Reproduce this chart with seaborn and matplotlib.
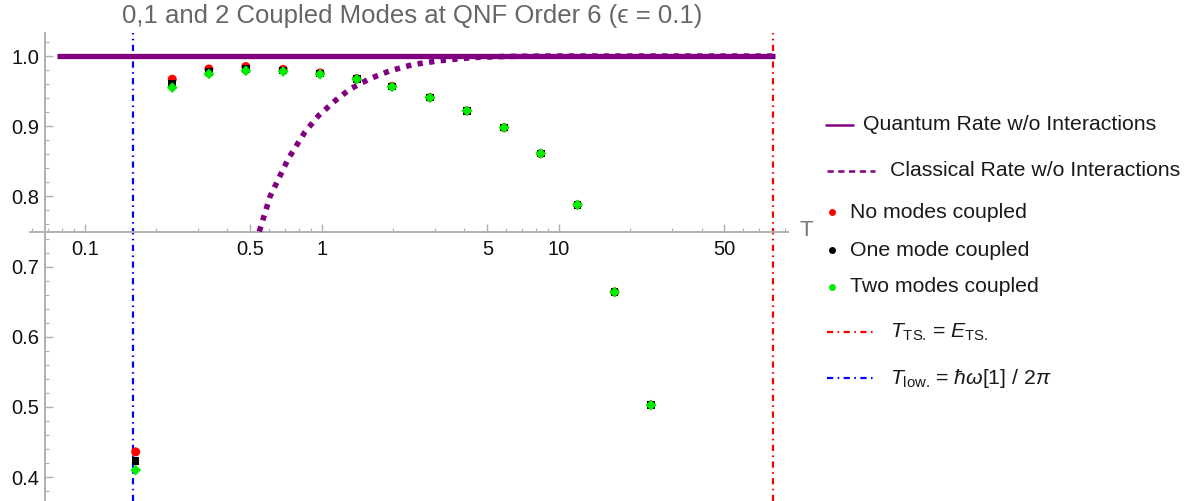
import numpy as np
import pandas as pd
import matplotlib
matplotlib.use("Agg")
import matplotlib.pyplot as plt
from matplotlib.lines import Line2D
from matplotlib.ticker import FixedLocator, NullFormatter, FixedFormatter
import seaborn as sns

# ---------------- data ----------------
temperature = [0.164, 0.234, 0.334, 0.478, 0.687, 0.984, 1.405, 1.98,
               2.86, 4.10, 5.88, 8.39, 12.0, 17.2, 24.5]
rate_no_modes = [0.436, 0.967, 0.9816, 0.985, 0.981, 0.976, 0.968, 0.957,
                 0.941, 0.922, 0.898, 0.861, 0.788, 0.664, 0.503]
rate_one_mode = [0.423, 0.961, 0.977, 0.9816, 0.9795, 0.975, 0.9675, 0.9565,
                 0.9408, 0.922, 0.898, 0.861, 0.788, 0.6637, 0.5027]
rate_two_modes = [0.410, 0.955, 0.9745, 0.979, 0.978, 0.974, 0.967, 0.956,
                  0.9407, 0.922, 0.898, 0.861, 0.788, 0.6635, 0.5026]

classical_T = [0.545, 0.605, 0.723, 0.85, 0.968, 1.14, 1.316, 1.60, 1.94,
               2.43, 3.16, 4.36, 6.0, 9.0, 15.0, 30.0, 81.9]
classical_rate = [0.75, 0.80, 0.854, 0.892, 0.915, 0.9365, 0.953, 0.968, 0.979,
                  0.988, 0.9935, 0.998, 0.9995, 1.0, 1.0, 1.0, 1.0]

quantum_T = [0.0764, 81.9]
quantum_rate = [1.0, 1.0]

T_low = 0.160
T_TS = 80.4

x_major = [0.1, 0.5, 1, 5, 10, 50]
x_major_labels = ["0.1", "0.5", "1", "5", "10", "50"]
y_major = [0.4, 0.5, 0.6, 0.7, 0.8, 0.9, 1.0]
y_major_labels = ["0.4", "0.5", "0.6", "0.7", "0.8", "0.9", "1.0"]

legend_labels = ["Quantum Rate w/o Interactions", "Classical Rate w/o Interactions",
                 "No modes coupled", "One mode coupled", "Two modes coupled",
                 r"$T_{\mathrm{TS.}}\,$" + "= " + r"$E_{\mathrm{TS.}}$",
                 r"$T_{\mathrm{low.}}\,$" + "= " + r"$\hbar\omega$[1] / 2$\pi$"]
title = "0,1 and 2 Coupled Modes at QNF Order 6 (\u03f5 = 0.1)"

# ---------------- style ----------------
sns.set_style("white")
plt.rcParams["font.family"] = ["Liberation Sans", "DejaVu Sans"]
plt.rcParams["mathtext.fontset"] = "custom"
plt.rcParams["mathtext.rm"] = "Liberation Sans"
plt.rcParams["mathtext.it"] = "Liberation Sans:italic"
plt.rcParams["mathtext.bf"] = "Liberation Sans:bold"

PURPLE = (0.5, 0.0, 0.5)
AXIS_GREY = "#b0b0b0"
W, H = 1193, 501

fig = plt.figure(figsize=(W / 100, H / 100), dpi=100)
ax_left, ax_right, ax_top = 30, 788, 32.7
ax = fig.add_axes([ax_left / W, 0.0, (ax_right - ax_left) / W, (H - ax_top) / H])

ax.set_xscale("log")

# curves
sns.lineplot(x=quantum_T, y=quantum_rate, ax=ax, color=PURPLE, lw=3.8,
             solid_capstyle="butt", zorder=3)
sns.lineplot(x=classical_T, y=classical_rate, ax=ax, color=PURPLE, lw=4.0,
             linestyle=(0, (0.95, 1.15)), zorder=3)

# vertical markers
dashdot = (0, (2.8, 2.0, 0.7, 2.0))
ax.axvline(T_low, color="blue", lw=1.6, linestyle=dashdot, zorder=2)
ax.axvline(T_TS, color="red", lw=1.6, linestyle=dashdot, zorder=2)

# points
sns.scatterplot(x=temperature, y=rate_no_modes, ax=ax, color="red", marker="o",
                s=42, edgecolor="none", zorder=4)
sns.scatterplot(x=temperature, y=rate_one_mode, ax=ax, color="black", marker="s",
                s=30, edgecolor="none", zorder=5)
sns.scatterplot(x=temperature, y=rate_two_modes, ax=ax, color="#00ee00", marker="D",
                s=30, edgecolor="none", zorder=6)

ax.set_xlim(10 ** -1.231, 10 ** 1.967)
ax.set_ylim(0.366, 1.0333)

# axes styling (Mathematica-like crossing axes)
for s in ["top", "right"]:
    ax.spines[s].set_visible(False)
ax.spines["left"].set_position(("data", 0.068))
ax.spines["bottom"].set_position(("data", 0.75))
for s in ["left", "bottom"]:
    ax.spines[s].set_color(AXIS_GREY)
    ax.spines[s].set_linewidth(1.4)

ax.xaxis.set_major_locator(FixedLocator(x_major))
ax.xaxis.set_major_formatter(FixedFormatter(x_major_labels))
x_minor = [m * d for d in (0.01, 0.1, 1, 10) for m in range(2, 10)]
x_minor = [v for v in x_minor if v not in x_major]
ax.xaxis.set_minor_locator(FixedLocator(x_minor))
ax.xaxis.set_minor_formatter(NullFormatter())

ax.yaxis.set_major_locator(FixedLocator(y_major))
ax.yaxis.set_major_formatter(FixedFormatter(y_major_labels))
ax.yaxis.set_minor_locator(FixedLocator(np.arange(0.36, 1.04, 0.02)))
ax.yaxis.set_minor_formatter(NullFormatter())

ax.tick_params(which="both", bottom=True, left=True, top=False, right=False)
ax.tick_params(which="major", direction="in", length=6.0, width=1.0,
               color=AXIS_GREY, labelsize=14.5, labelcolor="#111111")
ax.tick_params(which="minor", direction="in", length=3.2, width=0.8, color=AXIS_GREY)
ax.tick_params(axis="x", which="major", pad=6)
ax.tick_params(axis="y", which="major", pad=4)
ax.set_xlabel("")
ax.set_ylabel("")

# axis label "T"
fig.text(800 / W, 1 - 231 / H, "T", fontsize=16, color="#777777", va="center", ha="left")

# title
fig.text(412 / W, 1 - 16 / H, title, fontsize=18.5, color="#666666", ha="center", va="center")

# ---------------- legend (manual, figure coordinates) ----------------
def fx(px):
    return px / W

def fy(py):
    return 1 - py / H

legend_fs = 15.3
txt_col = "#1a1a1a"
# quantum
fig.add_artist(Line2D([fx(826), fx(853)], [fy(125), fy(125)], color=PURPLE, lw=1.8))
fig.text(fx(863), fy(125), legend_labels[0], fontsize=legend_fs, color=txt_col, va="center")
# classical
fig.add_artist(Line2D([fx(827), fx(875)], [fy(171), fy(171)], color=PURPLE, lw=1.8,
                      linestyle=(0, (2.5, 1.8))))
fig.text(fx(890), fy(171), legend_labels[1], fontsize=legend_fs, color=txt_col, va="center")
# points
for yy, col, lab in [(212, "red", legend_labels[2]), (250, "black", legend_labels[3]),
                     (287, "#00ee00", legend_labels[4])]:
    fig.add_artist(Line2D([fx(832)], [fy(yy)], marker="o", color=col, markersize=5,
                          linestyle="none", markeredgewidth=0))
    fig.text(fx(850), fy(yy), lab, fontsize=legend_fs, color=txt_col, va="center")
# vertical lines
for yy, col, lab in [(332, "red", legend_labels[5]), (378, "blue", legend_labels[6])]:
    fig.add_artist(Line2D([fx(827), fx(873)], [fy(yy), fy(yy)], color=col, lw=1.6,
                          linestyle=(0, (2.8, 2.0, 0.7, 2.0))))
    fig.text(fx(890), fy(yy), lab, fontsize=legend_fs, color=txt_col, va="center")

fig.savefig("out.png", dpi=100)
